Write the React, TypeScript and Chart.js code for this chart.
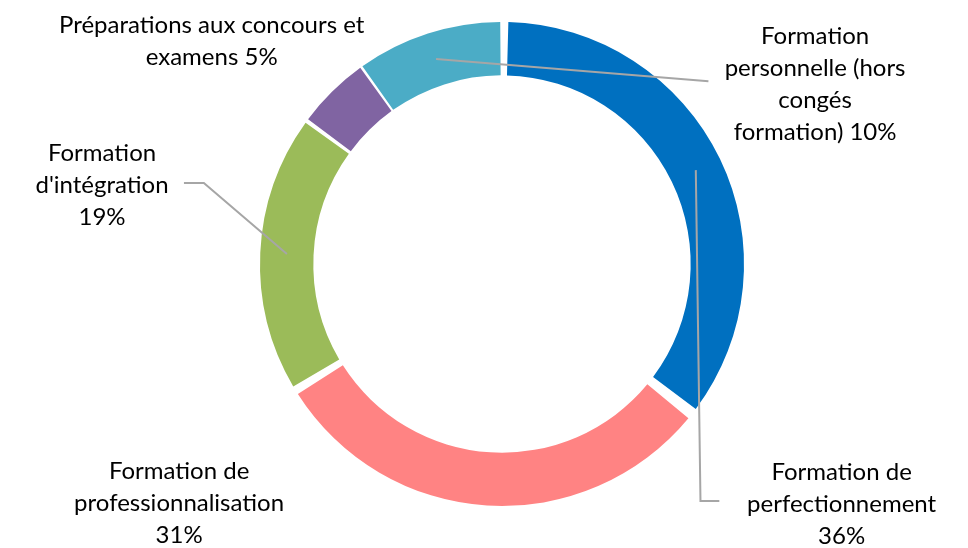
import React, { useEffect, useRef } from "react";
import { Chart, registerables } from "chart.js";

Chart.register(...registerables);

const categories = [
  "Formation de perfectionnement",
  "Formation de professionnalisation",
  "Formation d'intégration",
  "Préparations aux concours et examens",
  "Formation personnelle (hors congés formation)",
];
const values = [36, 31, 19, 5, 10];
const labelLines = [
  ["Formation de", "perfectionnement", "36%"],
  ["Formation de", "professionnalisation", "31%"],
  ["Formation", "d'intégration", "19%"],
  ["Préparations aux concours et", "examens 5%"],
  ["Formation", "personnelle (hors", "congés", "formation) 10%"],
];
const colors = ["#0070C0", "#FF8383", "#9BBB59", "#8064A2", "#4BACC6"];

// label layout, in units of the outer radius, relative to the chart centre
const labelLayout = [
  { x: 1.433, y: 0.879, leader: [[0.8375, 1.0], [0.917, 1.0]] },
  { x: -1.3625, y: 0.875, leader: null },
  { x: -1.6875, y: -0.467, leader: [[-1.258, -0.342], [-1.342, -0.342]] },
  { x: -1.225, y: -1.008, leader: null },
  { x: 1.321, y: -0.9625, leader: [[0.871, -0.771]] },
];

const FONT = "Lato";
const FONT_SIZE = 24;
const LINE_H = 32;

const labelPlugin = {
  id: "outLabels",
  afterDatasetsDraw(chart: any) {
    const ctx = chart.ctx;
    const meta = chart.getDatasetMeta(0);
    meta.data.forEach((arc: any, i: number) => {
      const { x: cx, y: cy, outerRadius: R } = arc.getProps(["x", "y", "outerRadius"], true);
      const lay = labelLayout[i];
      if (lay.leader) {
        const start = arc.getCenterPoint();
        ctx.save();
        ctx.strokeStyle = "#A6A6A6";
        ctx.lineWidth = 2;
        ctx.beginPath();
        ctx.moveTo(start.x, start.y);
        lay.leader.forEach((p: number[]) => ctx.lineTo(cx + p[0] * R, cy + p[1] * R));
        ctx.stroke();
        ctx.restore();
      }
      ctx.save();
      ctx.fillStyle = "#000";
      ctx.font = `${FONT_SIZE}px ${FONT}`;
      ctx.textAlign = "center";
      ctx.textBaseline = "middle";
      labelLines[i].forEach((t, k) => {
        ctx.fillText(t, cx + lay.x * R, cy + lay.y * R + k * LINE_H);
      });
      ctx.restore();
    });
  },
};

export default function App() {
  const ref = useRef<HTMLCanvasElement | null>(null);
  useEffect(() => {
    if (!ref.current) return;
    const chart = new Chart(ref.current, {
      type: "doughnut",
      data: {
        labels: categories,
        datasets: [
          {
            data: values,
            backgroundColor: colors,
            borderWidth: 0,
            spacing: 10,
          },
        ],
      },
      options: {
        animation: false,
        responsive: true,
        maintainAspectRatio: false,
        cutout: "77.5%",
        layout: { padding: { left: 260, right: 224, top: 22, bottom: 42 } },
        plugins: { legend: { display: false }, tooltip: { enabled: false } },
      },
      plugins: [labelPlugin],
    });
    return () => chart.destroy();
  }, []);
  return (
    <div style={{ position: "fixed", left: 0, top: 0, width: 968, height: 548, background: "#fff" }}>
      <canvas ref={ref} />
    </div>
  );
}
